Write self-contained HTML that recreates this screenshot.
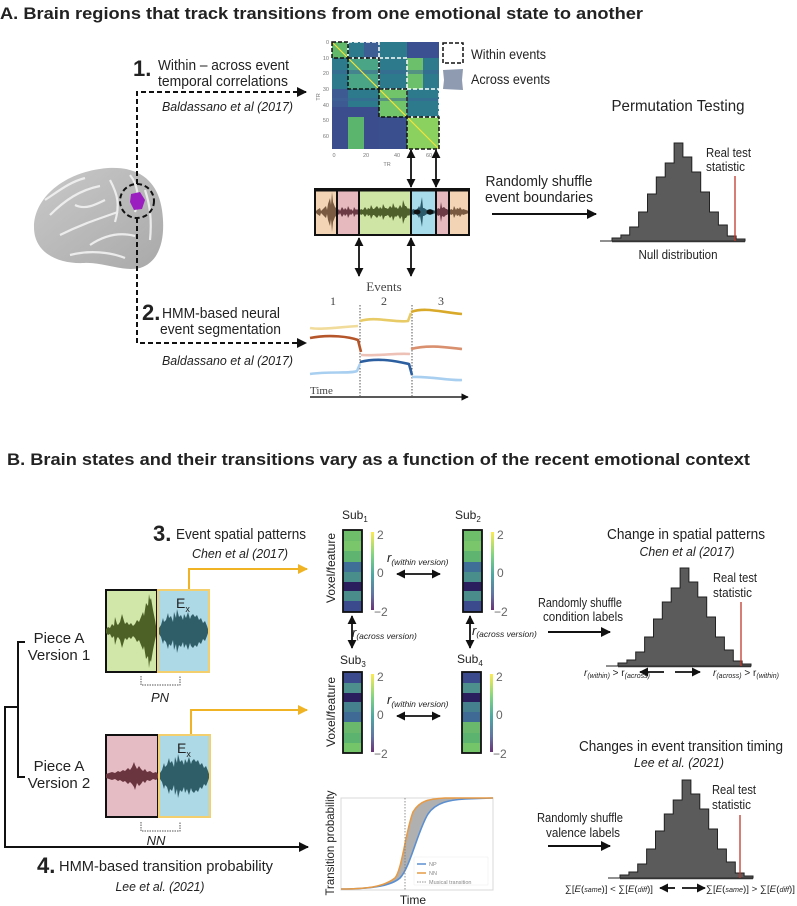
<!DOCTYPE html>
<html><head><meta charset="utf-8">
<style>
html,body{margin:0;padding:0;background:#fff;}
svg{display:block;font-family:"Liberation Sans",Arial,sans-serif;}
.t{fill:#222;}
.i{font-style:italic;fill:#222;}
.sr{font-family:"Liberation Serif",serif;fill:#444;}
</style></head>
<body>
<svg width="797" height="906" viewBox="0 0 797 906" xmlns="http://www.w3.org/2000/svg">
<defs>
<marker id="ah" viewBox="0 0 10 10" refX="9" refY="5" markerWidth="5" markerHeight="5" orient="auto-start-reverse"><path d="M0,0 L10,5 L0,10 Z" fill="#111"/></marker>
<marker id="ay" viewBox="0 0 10 10" refX="9" refY="5" markerWidth="5" markerHeight="5" orient="auto"><path d="M0,0 L10,5 L0,10 Z" fill="#f0b323"/></marker>
<linearGradient id="vir" x1="0" y1="0" x2="0" y2="1">
<stop offset="0" stop-color="#fde725"/><stop offset="0.3" stop-color="#5ec962"/><stop offset="0.55" stop-color="#21918c"/><stop offset="0.8" stop-color="#3b528b"/><stop offset="1" stop-color="#440154"/></linearGradient>
<linearGradient id="brain" x1="0" y1="0" x2="1" y2="1"><stop offset="0" stop-color="#c9c9c9"/><stop offset="1" stop-color="#a9a9a9"/></linearGradient>
<g id="hist">
<polygon points="600,241 612,241 612,238 620.9,238 620.9,235 629.7,235 629.7,227 638.6,227 638.6,212 647.5,212 647.5,194 656.3,194 656.3,177 665.2,177 665.2,163 674.1,163 674.1,143 682.9,143 682.9,157 691.8,157 691.8,172 700.7,172 700.7,192 709.5,192 709.5,212 718.4,212 718.4,225 727.3,225 727.3,236 736.1,236 736.1,239 745,239 745,241" fill="#5b5b5b" stroke="#222" stroke-width="1"/>
<line x1="612" y1="241.5" x2="745" y2="241.5" stroke="#333" stroke-width="1.5"/>
</g>
<g id="exwave"><polygon fill="#2f5d68" points="159,628 161,625 163,618 164,622 166,620 168,613 169,618 171,616 173,622 174,612 176,618 177,609 179,617 181,615 183,620 184,614 186,618 188,612 190,619 191,616 193,614 195,617 197,615 199,620 201,618 203,623 205,621 207,626 208,629 208,633 207,636 205,641 203,639 201,644 199,642 197,647 195,645 193,648 191,646 190,643 188,650 186,644 184,648 183,642 181,647 179,645 177,653 176,644 174,650 173,640 171,646 169,644 168,649 166,642 164,640 163,644 161,637 159,634"/></g>
</defs>

<!-- ================= A ================= -->
<text x="0" y="19" font-size="17" font-weight="bold" class="t" textLength="643" lengthAdjust="spacingAndGlyphs">A. Brain regions that track transitions from one emotional state to another</text>

<!-- brain -->
<path d="M35,236 C28,205 58,172 108,168 C140,166 158,182 162,210 C166,238 160,262 140,268 C122,272 104,262 84,263 C62,264 40,256 35,236Z" fill="url(#brain)"/>
<g stroke="#f2f2f2" stroke-width="2.2" fill="none" opacity="0.9">
<path d="M50,215 C65,200 80,190 100,186"/><path d="M60,235 C80,225 95,220 118,212"/><path d="M45,200 C60,190 70,182 85,178"/>
<path d="M90,245 C105,235 120,232 135,236"/><path d="M110,180 C118,195 120,205 115,222"/><path d="M130,175 C138,185 140,200 135,212"/>
<path d="M70,255 C90,250 110,252 125,258"/><path d="M145,190 C150,205 152,220 150,240"/><path d="M75,205 C85,210 95,205 105,200"/>
</g>
<path d="M131,194 L140,192 L145,200 L142,209 L134,210 L130,202Z" fill="#9b1fc0"/>
<circle cx="137" cy="201" r="17" fill="none" stroke="#111" stroke-width="2" stroke-dasharray="5,3"/>

<!-- dashed connectors -->
<path d="M137,184 L137,92 L306,92" fill="none" stroke="#111" stroke-width="2" stroke-dasharray="5,3" marker-end="url(#ah)"/>
<path d="M137,218 L137,343 L306,343" fill="none" stroke="#111" stroke-width="2" stroke-dasharray="5,3" marker-end="url(#ah)"/>

<text x="133" y="76" font-size="22" font-weight="bold" class="t">1.</text>
<text x="158" y="70" font-size="15" class="t" textLength="131" lengthAdjust="spacingAndGlyphs">Within – across event</text>
<text x="158" y="86" font-size="15" class="t" textLength="130" lengthAdjust="spacingAndGlyphs">temporal correlations</text>
<text x="162" y="111" font-size="13" class="i" textLength="131" lengthAdjust="spacingAndGlyphs">Baldassano et al (2017)</text>

<text x="142" y="320" font-size="22" font-weight="bold" class="t">2.</text>
<text x="162" y="318" font-size="15" class="t" textLength="118" lengthAdjust="spacingAndGlyphs">HMM-based neural</text>
<text x="160" y="334" font-size="15" class="t" textLength="121" lengthAdjust="spacingAndGlyphs">event segmentation</text>
<text x="162" y="365" font-size="13" class="i" textLength="131" lengthAdjust="spacingAndGlyphs">Baldassano et al (2017)</text>

<!-- matrix -->
<rect x="332" y="42" width="107" height="107" fill="#2d7a8c"/>
<rect x="332" y="107" width="47" height="42" fill="#3c4d8d"/>
<rect x="407" y="42" width="32" height="16" fill="#3b5090"/>
<rect x="332" y="89" width="16" height="18" fill="#3e5a93"/>
<rect x="348" y="58" width="16" height="31" fill="#3f6c97"/>
<rect x="332" y="42" width="16" height="16" fill="#62b86a"/>
<rect x="348" y="58" width="31" height="31" fill="#4aa587"/>
<rect x="379" y="89" width="28" height="28" fill="#72c46a"/>
<rect x="407" y="117" width="32" height="32" fill="#8ad160"/>
<rect x="407" y="58" width="16" height="31" fill="#6cc06c"/>
<rect x="348" y="117" width="16" height="32" fill="#5cb56c"/>
<rect x="364" y="42" width="15" height="16" fill="#3d5e95"/>
<rect x="379" y="117" width="28" height="32" fill="#3a4f8e"/>
<rect x="332" y="70" width="107" height="4" fill="#3b6395" opacity="0.5"/>
<rect x="332" y="98" width="107" height="3" fill="#3b6395" opacity="0.5"/>
<line x1="332" y1="42" x2="439" y2="149" stroke="#f3e23a" stroke-width="1.2"/>
<g fill="none" stroke="#fff" stroke-width="1.5" stroke-dasharray="4,2">
<rect x="379" y="58" width="28" height="31"/><rect x="407" y="89" width="32" height="28"/><rect x="348" y="42" width="31" height="16"/>
</g>
<g fill="none" stroke="#111" stroke-width="1.5" stroke-dasharray="4,2">
<rect x="332" y="42" width="16" height="16"/><rect x="348" y="58" width="31" height="31"/><rect x="379" y="89" width="28" height="28"/><rect x="407" y="117" width="32" height="32"/>
</g>
<g font-size="5.5" fill="#777" text-anchor="end">
<text x="329" y="44">0</text><text x="329" y="60">10</text><text x="329" y="75">20</text><text x="329" y="91">30</text><text x="329" y="107">40</text><text x="329" y="122">50</text><text x="329" y="138">60</text>
</g>
<g font-size="5.5" fill="#777" text-anchor="middle">
<text x="334" y="157">0</text><text x="366" y="157">20</text><text x="397" y="157">40</text><text x="429" y="157">60</text><text x="387" y="166">TR</text>
<text transform="translate(320,97) rotate(-90)">TR</text>
</g>
<rect x="443" y="43" width="20" height="20" fill="none" stroke="#111" stroke-width="1.5" stroke-dasharray="4,2"/>
<path d="M443,70 L463,69 L462,80 L463,90 L443,89 L444,80Z" fill="#8e9bb0"/>
<text x="471" y="59" font-size="14" class="t" textLength="75" lengthAdjust="spacingAndGlyphs">Within  events</text>
<text x="471" y="84" font-size="14" class="t" textLength="79" lengthAdjust="spacingAndGlyphs">Across events</text>

<!-- vertical double arrows -->
<g stroke="#111" stroke-width="1.8" marker-start="url(#ah)" marker-end="url(#ah)">
<line x1="411" y1="150" x2="411" y2="187"/><line x1="436" y1="150" x2="436" y2="187"/>
<line x1="359" y1="238" x2="359" y2="276"/><line x1="411" y1="238" x2="411" y2="276"/>
</g>

<!-- waveform strip A -->
<rect x="315" y="190" width="22" height="45" fill="#f3d5b5"/>
<rect x="337" y="190" width="22" height="45" fill="#e6b9bf"/>
<rect x="359" y="190" width="52" height="45" fill="#cfe5a6"/>
<rect x="411" y="190" width="25" height="45" fill="#a9dcea"/>
<rect x="436" y="190" width="13" height="45" fill="#e6b9bf"/>
<rect x="449" y="190" width="20" height="45" fill="#f3d5b5"/>
<polygon fill="#7a5a40" points="316,211 317,210 320,208 321,211 323,209 326,206 327,210 328,204 330,198 331,205 332,192 333,202 335,207 337,209 337,215 335,217 333,222 332,232 331,219 330,226 328,220 327,214 326,218 323,215 321,213 320,216 317,214 316,213"/>
<polygon fill="#6b3a45" points="337,211 339,209 340,211 342,207 344,210 345,208 347,210 348,206 350,210 351,209 353,211 354,207 356,210 357,209 359,211 359,213 357,215 356,214 354,217 353,213 351,215 350,214 348,218 347,214 345,216 344,214 342,217 340,213 339,215 337,213"/>
<polygon fill="#4f5f2b" points="359,211 361,209 363,210 365,207 367,210 368,208 370,209 371,205 373,209 374,209 376,207 377,206 379,209 380,207 382,209 383,204 385,208 386,208 388,209 390,206 392,208 393,203 395,208 396,207 398,209 400,205 402,208 403,200 405,206 406,206 408,209 409,208 411,211 411,213 409,216 408,215 406,218 405,218 403,224 402,216 400,219 398,215 396,217 395,216 393,221 392,216 390,218 388,215 386,216 385,216 383,220 382,215 380,217 379,215 377,218 376,217 374,215 373,215 371,219 370,215 368,216 367,214 365,217 363,214 361,215 359,213"/>
<polygon fill="#2b5a6b" points="411,211 413,209 416,210 418,208 419,206 420,208 422,197 423,208 424,208 427,210 430,209 433,210 436,211 436,213 433,214 430,215 427,214 424,216 423,216 422,227 420,216 419,218 418,216 416,214 413,215 411,213"/>
<ellipse cx="417" cy="212" rx="3.5" ry="2.5" fill="#111"/><ellipse cx="430" cy="212" rx="3.5" ry="2.5" fill="#111"/>
<polygon fill="#6b3a45" points="436,211 438,208 440,209 441,202 442,208 444,207 446,209 447,209 449,211 449,213 447,215 446,215 444,217 442,216 441,222 440,215 438,216 436,213"/>
<polygon fill="#7a5a40" points="449,211 451,209 453,210 454,206 456,210 457,208 459,209 460,207 462,210 463,209 466,210 469,211 469,213 466,214 463,215 462,214 460,217 459,215 457,216 456,214 454,218 453,214 451,215 449,213"/>
<g stroke="#111" stroke-width="2" fill="none">
<rect x="315" y="189" width="154" height="46"/>
<line x1="337" y1="189" x2="337" y2="235"/><line x1="359" y1="189" x2="359" y2="235"/><line x1="411" y1="189" x2="411" y2="235"/><line x1="436" y1="189" x2="436" y2="235"/><line x1="449" y1="189" x2="449" y2="235"/>
</g>
<line x1="315" y1="190" x2="469" y2="190" stroke="#111" stroke-width="3"/>

<text x="539" y="186" font-size="15" class="t" text-anchor="middle" textLength="107" lengthAdjust="spacingAndGlyphs">Randomly shuffle</text>
<text x="539" y="202" font-size="15" class="t" text-anchor="middle" textLength="108" lengthAdjust="spacingAndGlyphs">event boundaries</text>
<line x1="492" y1="214" x2="596" y2="214" stroke="#111" stroke-width="2" marker-end="url(#ah)"/>

<text x="678" y="111" font-size="16" class="t" text-anchor="middle" textLength="133" lengthAdjust="spacingAndGlyphs">Permutation Testing</text>
<use href="#hist"/>
<line x1="735" y1="176" x2="735" y2="241" stroke="#c0392b" stroke-width="1.3"/>
<text x="706" y="157" font-size="13" class="t" textLength="45" lengthAdjust="spacingAndGlyphs">Real test</text>
<text x="706" y="171" font-size="13" class="t" textLength="39" lengthAdjust="spacingAndGlyphs">statistic</text>
<text x="678" y="259" font-size="13" class="t" text-anchor="middle" textLength="79" lengthAdjust="spacingAndGlyphs">Null distribution</text>

<!-- events plot -->
<text x="384" y="291" font-size="13" class="sr" text-anchor="middle">Events</text>
<text x="333" y="305" font-size="12" class="sr" text-anchor="middle">1</text>
<text x="384" y="305" font-size="12" class="sr" text-anchor="middle">2</text>
<text x="441" y="305" font-size="12" class="sr" text-anchor="middle">3</text>
<g stroke="#555" stroke-width="1" stroke-dasharray="1.5,1.5"><line x1="360" y1="305" x2="360" y2="396"/><line x1="412" y1="305" x2="412" y2="396"/></g>
<g fill="none" stroke-width="2.6" stroke-linejoin="round">
<path d="M310,328 C320,330 340,327 358,326" stroke="#f1dc9c"/>
<path d="M360,321 C375,316 395,323 408,321 L411,313" stroke="#e8cb66"/>
<path d="M411,312 C425,307 440,312 462,314" stroke="#d9a92a"/>
<path d="M310,338 C330,334 350,337 358,340 L361,352" stroke="#b5552a"/>
<path d="M361,355 C380,356 395,353 410,354" stroke="#eec1b7"/>
<path d="M411,349 C430,344 450,348 462,349" stroke="#d9906e"/>
<path d="M310,374 C330,371 350,374 357,371 L360,364" stroke="#a9cff0"/>
<path d="M360,362 C380,357 400,362 409,364 L412,375" stroke="#2c5fa0"/>
<path d="M412,377 C430,376 450,381 462,380" stroke="#a9cff0"/>
</g>
<line x1="310" y1="397" x2="468" y2="397" stroke="#222" stroke-width="1.5" marker-end="url(#ah)"/>
<text x="310" y="394" font-size="11" class="sr">Time</text>

<!-- ================= B ================= -->
<text x="7" y="465" font-size="17" font-weight="bold" class="t" textLength="743" lengthAdjust="spacingAndGlyphs">B. Brain states and their transitions vary as a function of the recent emotional context</text>

<text x="153" y="541" font-size="22" font-weight="bold" class="t">3.</text>
<text x="176" y="539" font-size="15" class="t" textLength="130" lengthAdjust="spacingAndGlyphs">Event spatial patterns</text>
<text x="192" y="558" font-size="13" class="i" textLength="96" lengthAdjust="spacingAndGlyphs">Chen et al (2017)</text>

<!-- yellow connectors -->
<path d="M189,590 L189,569 L307,569" fill="none" stroke="#f0b323" stroke-width="2" marker-end="url(#ay)"/>
<path d="M191,735 L191,710 L307,710" fill="none" stroke="#f0b323" stroke-width="2" marker-end="url(#ay)"/>

<!-- version 1 boxes -->
<rect x="106" y="590" width="51" height="82" fill="#d1e6a9" stroke="#111" stroke-width="2"/>
<rect x="158" y="590" width="51" height="82" fill="#add9e6" stroke="#f3cf6e" stroke-width="2"/>
<polygon fill="#4d6126" points="106,629 108,627 110,628 112,624 114,626 115,617 117,624 118,625 120,622 122,614 124,621 125,624 127,622 129,625 131,623 133,626 135,624 137,620 139,622 141,617 143,612 144,616 146,603 148,606 149,594 150,600 151,598 153,610 155,620 156,626 156,636 155,640 153,650 151,662 150,660 149,668 148,656 146,659 144,646 143,650 141,645 139,640 137,642 135,638 133,636 131,639 129,637 127,640 125,638 124,641 122,648 120,640 118,637 117,638 115,645 114,636 112,638 110,634 108,635 106,633"/>
<use href="#exwave"/>
<text x="176" y="608" font-size="14" class="t">E<tspan font-size="9" dy="4">x</tspan></text>
<path d="M141,676 L141,685 L180,685 L180,676" fill="none" stroke="#555" stroke-width="1" stroke-dasharray="1.5,1"/>
<text x="160" y="702" font-size="13" class="i" text-anchor="middle">PN</text>

<!-- version 2 boxes -->
<rect x="106" y="735" width="52" height="82" fill="#e5bcc3" stroke="#111" stroke-width="2"/>
<rect x="159" y="735" width="51" height="82" fill="#add9e6" stroke="#f3cf6e" stroke-width="2"/>
<polygon fill="#6b3540" points="106,774 109,773 112,772 115,773 118,771 120,772 123,770 125,771 128,768 130,770 132,767 134,762 135,765 137,769 139,766 141,769 143,771 145,769 147,772 150,771 153,773 156,772 158,774 158,778 156,780 153,779 150,781 147,780 145,783 143,781 141,784 139,786 137,783 135,790 134,787 132,784 130,782 128,784 125,781 123,782 120,780 118,781 115,779 112,780 109,779 106,778"/>
<use href="#exwave" transform="translate(1,145)"/>
<text x="177" y="753" font-size="14" class="t">E<tspan font-size="9" dy="4">x</tspan></text>
<path d="M141,822 L141,831 L180,831 L180,822" fill="none" stroke="#555" stroke-width="1" stroke-dasharray="1.5,1"/>
<text x="156" y="845" font-size="13" class="i" text-anchor="middle">NN</text>

<!-- tree -->
<path d="M25,642 L18,642 L18,777 L25,777" fill="none" stroke="#111" stroke-width="2"/>
<path d="M18,707 L5,707 L5,847 L308,847" fill="none" stroke="#111" stroke-width="2" marker-end="url(#ah)"/>
<text x="59" y="643" font-size="15" class="t" text-anchor="middle">Piece A</text>
<text x="59" y="660" font-size="15" class="t" text-anchor="middle">Version 1</text>
<text x="59" y="771" font-size="15" class="t" text-anchor="middle">Piece A</text>
<text x="59" y="788" font-size="15" class="t" text-anchor="middle">Version 2</text>

<text x="37" y="873" font-size="22" font-weight="bold" class="t">4.</text>
<text x="59" y="871" font-size="15" class="t" textLength="214" lengthAdjust="spacingAndGlyphs">HMM-based transition probability</text>
<text x="160" y="891" font-size="13" class="i" text-anchor="middle" textLength="89" lengthAdjust="spacingAndGlyphs">Lee et al. (2021)</text>

<!-- spatial pattern columns -->
<g font-size="12" class="t">
<text x="342" y="519">Sub<tspan font-size="8" dy="3">1</tspan></text>
<text x="455" y="519">Sub<tspan font-size="8" dy="3">2</tspan></text>
<text x="340" y="664">Sub<tspan font-size="8" dy="3">3</tspan></text>
<text x="457" y="663">Sub<tspan font-size="8" dy="3">4</tspan></text>
</g>
<g id="colA">
<rect x="343" y="530" width="19" height="11" fill="#6dbd6a"/>
<rect x="343" y="541" width="19" height="10" fill="#7ac66b"/>
<rect x="343" y="551" width="19" height="11" fill="#5fb56f"/>
<rect x="343" y="562" width="19" height="10" fill="#3f6f97"/>
<rect x="343" y="572" width="19" height="10" fill="#4a8e8c"/>
<rect x="343" y="582" width="19" height="9" fill="#2b1e5e"/>
<rect x="343" y="591" width="19" height="10" fill="#4a8c8c"/>
<rect x="343" y="601" width="19" height="11" fill="#3b4a8c"/>
<rect x="343" y="530" width="19" height="82" fill="none" stroke="#111" stroke-width="1.8"/>
<rect x="371" y="532" width="3" height="78" fill="url(#vir)" opacity="0.8"/>
<text x="377" y="539" font-size="12" fill="#666">2</text>
<text x="377" y="577" font-size="12" fill="#666">0</text>
<text x="374" y="616" font-size="12" fill="#666">−2</text>
</g>
<use href="#colA" transform="translate(120,0)"/>
<g id="colB">
<rect x="343" y="672" width="19" height="11" fill="#3b4a8c"/>
<rect x="343" y="683" width="19" height="10" fill="#4d8f8c"/>
<rect x="343" y="693" width="19" height="9" fill="#2b1e5e"/>
<rect x="343" y="702" width="19" height="10" fill="#45808f"/>
<rect x="343" y="712" width="19" height="10" fill="#3f6a95"/>
<rect x="343" y="722" width="19" height="11" fill="#6ab86c"/>
<rect x="343" y="733" width="19" height="10" fill="#5cb370"/>
<rect x="343" y="743" width="19" height="10" fill="#74c56a"/>
<rect x="343" y="672" width="19" height="81" fill="none" stroke="#111" stroke-width="1.8"/>
<rect x="371" y="674" width="3" height="78" fill="url(#vir)" opacity="0.8"/>
<text x="377" y="681" font-size="12" fill="#666">2</text>
<text x="377" y="719" font-size="12" fill="#666">0</text>
<text x="374" y="758" font-size="12" fill="#666">−2</text>
</g>
<use href="#colB" transform="translate(119,0)"/>
<text transform="translate(335,568) rotate(-90)" font-size="12" class="t" text-anchor="middle" textLength="70" lengthAdjust="spacingAndGlyphs">Voxel/feature</text>
<text transform="translate(335,712) rotate(-90)" font-size="12" class="t" text-anchor="middle" textLength="70" lengthAdjust="spacingAndGlyphs">Voxel/feature</text>

<text x="387" y="562" font-size="13" class="i">r<tspan font-size="8.5" dy="3">(within version)</tspan></text>
<text x="387" y="704" font-size="13" class="i">r<tspan font-size="8.5" dy="3">(within version)</tspan></text>
<g stroke="#111" stroke-width="1.8" marker-start="url(#ah)" marker-end="url(#ah)">
<line x1="397" y1="574" x2="440" y2="574"/><line x1="397" y1="716" x2="440" y2="716"/>
<line x1="352" y1="616" x2="352" y2="648"/><line x1="470" y1="616" x2="470" y2="648"/>
</g>
<text x="352" y="637" font-size="13" class="i">r<tspan font-size="8.5" dy="2">(across version)</tspan></text>
<text x="472" y="635" font-size="13" class="i">r<tspan font-size="8.5" dy="2">(across version)</tspan></text>

<!-- transition probability plot -->
<rect x="341" y="798" width="152" height="92" fill="#fff" stroke="#d8d8d8" stroke-width="1"/>
<path d="M341,889 C370,889 385,886 395,878 C402,870 406,830 413,812 C420,800 430,799 445,798 L465,799 C450,800 436,802 428,814 C418,830 410,868 400,878 C392,885 375,889 341,889Z" fill="#b0b0b0"/>
<path d="M341,889 C375,889 392,885 400,878 C410,868 418,830 428,814 C436,802 450,800 465,799 L493,798" fill="none" stroke="#5b8fd0" stroke-width="1.6"/>
<path d="M341,889 C370,889 385,886 395,878 C402,870 406,830 413,812 C420,800 430,799 445,798 L493,798" fill="none" stroke="#e69a45" stroke-width="1.6"/>
<line x1="405" y1="798" x2="405" y2="890" stroke="#777" stroke-width="0.8" stroke-dasharray="1.5,1.5"/>
<rect x="414" y="857" width="74" height="28" fill="#fff" stroke="#eee" stroke-width="0.6"/>
<line x1="417" y1="864" x2="426" y2="864" stroke="#5b8fd0" stroke-width="1.5"/>
<line x1="417" y1="873" x2="426" y2="873" stroke="#e69a45" stroke-width="1.5"/>
<line x1="417" y1="882" x2="426" y2="882" stroke="#777" stroke-width="0.8" stroke-dasharray="1.5,1"/>
<g font-size="5.5" fill="#888"><text x="429" y="866">NP</text><text x="429" y="875">NN</text><text x="429" y="884">Musical transition</text></g>
<text transform="translate(334,843) rotate(-90)" font-size="12" class="t" text-anchor="middle" textLength="105" lengthAdjust="spacingAndGlyphs">Transition probability</text>
<text x="413" y="904" font-size="12" class="t" text-anchor="middle">Time</text>

<!-- right column B -->
<text x="686" y="539" font-size="15" class="t" text-anchor="middle" textLength="158" lengthAdjust="spacingAndGlyphs">Change in spatial patterns</text>
<text x="687" y="556" font-size="13" class="i" text-anchor="middle" textLength="95" lengthAdjust="spacingAndGlyphs">Chen et al (2017)</text>
<text x="580" y="607" font-size="13" class="t" text-anchor="middle" textLength="84" lengthAdjust="spacingAndGlyphs">Randomly shuffle</text>
<text x="583" y="621" font-size="13" class="t" text-anchor="middle" textLength="80" lengthAdjust="spacingAndGlyphs">condition labels</text>
<line x1="548" y1="632" x2="610" y2="632" stroke="#111" stroke-width="2" marker-end="url(#ah)"/>
<use href="#hist" transform="translate(6,425)"/>
<line x1="741" y1="602" x2="741" y2="666" stroke="#c0392b" stroke-width="1.3"/>
<text x="713" y="582" font-size="13" class="t" textLength="44" lengthAdjust="spacingAndGlyphs">Real test</text>
<text x="713" y="597" font-size="13" class="t" textLength="39" lengthAdjust="spacingAndGlyphs">statistic</text>
<text x="584" y="676" font-size="10" class="i">r<tspan font-size="7" dy="2">(within)</tspan><tspan dy="-2" font-style="normal"> &gt; r</tspan><tspan font-size="7" dy="2">(across)</tspan></text>
<line x1="640" y1="672" x2="664" y2="672" stroke="#111" stroke-width="1.8" marker-start="url(#ah)"/>
<line x1="675" y1="672" x2="700" y2="672" stroke="#111" stroke-width="1.8" marker-end="url(#ah)"/>
<text x="713" y="676" font-size="10" class="i">r<tspan font-size="7" dy="2">(across)</tspan><tspan dy="-2" font-style="normal"> &gt; r</tspan><tspan font-size="7" dy="2">(within)</tspan></text>

<text x="681" y="751" font-size="15" class="t" text-anchor="middle" textLength="204" lengthAdjust="spacingAndGlyphs">Changes in event transition timing</text>
<text x="679" y="767" font-size="13" class="i" text-anchor="middle" textLength="90" lengthAdjust="spacingAndGlyphs">Lee et al. (2021)</text>
<text x="580" y="822" font-size="13" class="t" text-anchor="middle" textLength="86" lengthAdjust="spacingAndGlyphs">Randomly shuffle</text>
<text x="583" y="837" font-size="13" class="t" text-anchor="middle" textLength="74" lengthAdjust="spacingAndGlyphs">valence labels</text>
<line x1="548" y1="846" x2="610" y2="846" stroke="#111" stroke-width="2" marker-end="url(#ah)"/>
<use href="#hist" transform="translate(8,637)"/>
<line x1="740" y1="815" x2="740" y2="878" stroke="#c0392b" stroke-width="1.3"/>
<text x="712" y="794" font-size="13" class="t" textLength="44" lengthAdjust="spacingAndGlyphs">Real test</text>
<text x="712" y="809" font-size="13" class="t" textLength="39" lengthAdjust="spacingAndGlyphs">statistic</text>
<text x="565" y="892" font-size="9.5" class="t" textLength="88" lengthAdjust="spacingAndGlyphs">∑[<tspan font-style="italic">E</tspan>(<tspan font-size="7" font-style="italic">same</tspan>)] &lt; ∑[<tspan font-style="italic">E</tspan>(<tspan font-size="7" font-style="italic">diff</tspan>)]</text>
<line x1="660" y1="888" x2="675" y2="888" stroke="#111" stroke-width="1.8" marker-start="url(#ah)"/>
<line x1="682" y1="888" x2="705" y2="888" stroke="#111" stroke-width="1.8" marker-end="url(#ah)"/>
<text x="706" y="892" font-size="9.5" class="t" textLength="89" lengthAdjust="spacingAndGlyphs">∑[<tspan font-style="italic">E</tspan>(<tspan font-size="7" font-style="italic">same</tspan>)] &gt; ∑[<tspan font-style="italic">E</tspan>(<tspan font-size="7" font-style="italic">diff</tspan>)]</text>
</svg>
</body></html>
